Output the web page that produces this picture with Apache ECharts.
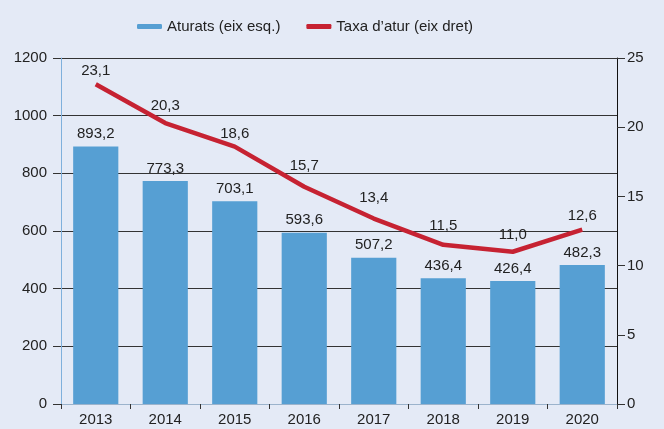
<!DOCTYPE html>
<html><head><meta charset="utf-8">
<script src="https://cdn.jsdelivr.net/npm/echarts@6/dist/echarts.min.js"></script>
<style>html,body{margin:0;padding:0;background:#e4eaf6;}#c{width:664px;height:429px;}</style>
</head><body><div id="c"></div>
<script>
var categories = ['2013','2014','2015','2016','2017','2018','2019','2020'];
var aturats = [893.2, 773.3, 703.1, 593.6, 507.2, 436.4, 426.4, 482.3];
var taxa = [23.1, 20.3, 18.6, 15.7, 13.4, 11.5, 11.0, 12.6];
var seriesNames = ['Aturats (eix esq.)', 'Taxa d\u2019atur (eix dret)'];

// label styling (distance of each rate label above its point, px)
var taxaLabelDistance = [5, 9, 4, 12, 12, 10, 8, 5];

var FONT = "'Liberation Sans', Arial, sans-serif";
function fmt(v){ return v.toFixed(1).replace('.', ','); }

var taxaData = taxa.map(function(v, i){
  return {value: v, label: {distance: taxaLabelDistance[i]}};
});

var chart = echarts.init(document.getElementById('c'));
chart.setOption({
  backgroundColor: '#e4eaf6',
  animation: false,
  textStyle: {fontFamily: FONT},
  legend: {
    top: 14, left: 132, itemGap: 26, itemWidth: 25, itemHeight: 5,
    textStyle: {fontFamily: FONT, fontSize: 15, color: '#222'},
    data: [
      {name: seriesNames[0], icon: 'roundRect', itemStyle: {color: '#569fd3', opacity: 1}},
      {name: seriesNames[1], icon: 'roundRect', itemStyle: {color: '#c62232', opacity: 1, borderWidth: 0}}
    ]
  },
  grid: {left: 61, right: 47, top: 58, bottom: 25, containLabel: false},
  xAxis: {
    type: 'category', data: categories,
    axisLine: {show: true, lineStyle: {color: '#9bb3cc', width: 1}},
    axisTick: {show: true, length: 5, lineStyle: {color: '#333'}},
    axisLabel: {fontFamily: FONT, fontSize: 15, color: '#222', margin: 8}
  },
  yAxis: [
    {type: 'value', min: 0, max: 1200, interval: 200, position: 'left',
     axisLine: {show: true, lineStyle: {color: '#7fb0dc', width: 1}},
     axisTick: {show: true, inside: false, length: 8, lineStyle: {color: '#333'}},
     axisLabel: {fontFamily: FONT, fontSize: 15, color: '#222', margin: 14,
                 formatter: function(v){ return String(v); }},
     splitLine: {show: true, lineStyle: {color: '#333', width: 1}}},
    {type: 'value', min: 0, max: 25, interval: 5, position: 'right',
     axisLine: {show: true, lineStyle: {color: '#111', width: 1}},
     axisTick: {show: true, length: 8, lineStyle: {color: '#333'}},
     axisLabel: {fontFamily: FONT, fontSize: 15, color: '#222', margin: 10},
     splitLine: {show: false}}
  ],
  series: [
    {name: seriesNames[0], type: 'bar', data: aturats, yAxisIndex: 0,
     barWidth: '65%', itemStyle: {color: '#569fd3'}, z: 2,
     label: {show: true, position: 'top', distance: 5, fontFamily: FONT, fontSize: 15, color: '#222',
             formatter: function(p){ return fmt(p.value); }}},
    {name: seriesNames[1], type: 'line', data: taxaData, yAxisIndex: 1,
     symbol: 'circle', symbolSize: 2, showSymbol: true,
     lineStyle: {color: '#c62232', width: 4.5},
     itemStyle: {color: 'rgba(0,0,0,0)', borderWidth: 0}, z: 3,
     label: {show: true, position: 'top', fontFamily: FONT, fontSize: 15, color: '#222',
             formatter: function(p){ return fmt(p.value); }}}
  ]
});
</script></body></html>
